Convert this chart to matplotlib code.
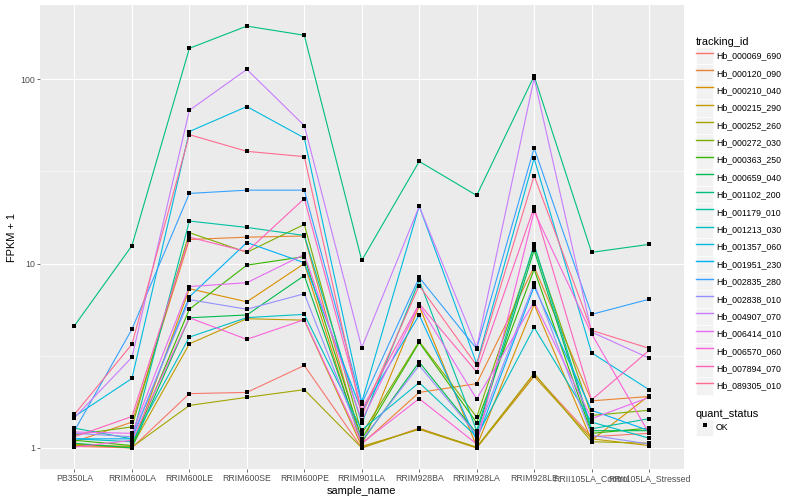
import numpy as np
import matplotlib
matplotlib.use('Agg')
import matplotlib.pyplot as plt
from matplotlib.lines import Line2D
from matplotlib.patches import Patch
from matplotlib.legend_handler import HandlerTuple
from matplotlib.ticker import FixedLocator, NullFormatter

plt.rcParams['font.family'] = ['Liberation Sans', 'DejaVu Sans']

samples = ['PB350LA', 'RRIM600LA', 'RRIM600LE', 'RRIM600SE', 'RRIM600PE',
           'RRIM901LA', 'RRIM928BA', 'RRIM928LA', 'RRIM928LE',
           'RRII105LA_Control', 'RRII105LA_Stressed']

tracking_ids = ['Hb_000069_690', 'Hb_000120_090', 'Hb_000210_040', 'Hb_000215_290',
                'Hb_000252_260', 'Hb_000272_030', 'Hb_000363_250', 'Hb_000659_040',
                'Hb_001102_200', 'Hb_001179_010', 'Hb_001213_030', 'Hb_001357_060',
                'Hb_001951_230', 'Hb_002835_280', 'Hb_002838_010', 'Hb_004907_070',
                'Hb_006414_010', 'Hb_006570_060', 'Hb_007894_070', 'Hb_089305_010']

# ggplot hue palette, 20 levels
colors = ['#F8766D', '#EA8331', '#D89000', '#C09B00', '#A3A500', '#7CAE00',
          '#39B600', '#00BB4E', '#00BF7D', '#00C1A3', '#00BFC4', '#00BAE0',
          '#00B0F6', '#35A2FF', '#9590FF', '#C77CFF', '#E76BF3', '#FA62DB',
          '#FF62BC', '#FF6C91']

# FPKM + 1, one row per tracking_id, one value per sample
fpkm = [
    [1.02, 1.0, 1.97, 2.0, 2.8, 1.0, 1.28, 1.0, 2.5, 1.15, 1.2],
    [1.08, 1.38, 13.5, 13.9, 14.1, 1.05, 2.0, 2.23, 9.6, 1.8, 1.9],
    [1.05, 1.0, 7.3, 6.2, 10.0, 1.03, 5.88, 1.02, 6.0, 1.1, 1.92],
    [1.03, 1.02, 3.67, 5.02, 4.93, 1.02, 1.26, 1.0, 2.44, 1.12, 1.03],
    [1.04, 1.01, 1.7, 1.88, 2.07, 1.0, 1.27, 1.01, 2.54, 1.08, 1.06],
    [1.18, 1.3, 14.7, 11.5, 16.3, 1.19, 3.78, 1.47, 12.3, 1.5, 1.6],
    [1.1, 1.03, 5.65, 9.8, 10.9, 1.12, 3.73, 1.37, 9.3, 1.2, 1.28],
    [1.06, 1.0, 5.08, 5.26, 8.6, 1.08, 2.92, 1.2, 11.8, 1.24, 1.24],
    [4.6, 12.5, 147, 194, 173, 10.4, 35.8, 23.4, 104, 11.5, 12.7],
    [1.28, 1.12, 17.0, 15.7, 14.2, 1.36, 8.1, 1.24, 12.7, 1.27, 1.44],
    [1.12, 1.08, 3.99, 5.09, 5.3, 1.25, 2.26, 1.15, 4.5, 1.38, 1.13],
    [1.48, 2.38, 52, 71, 48, 1.77, 20.5, 2.86, 37.2, 3.28, 2.07],
    [1.12, 1.12, 6.6, 13.0, 10.1, 1.58, 5.26, 1.1, 7.5, 1.6, 1.24],
    [1.24, 4.4, 24, 25, 25, 1.74, 8.4, 3.45, 42.3, 5.3, 6.4],
    [1.2, 1.15, 6.37, 5.65, 6.86, 1.1, 2.8, 1.18, 7.8, 1.17, 1.05],
    [1.46, 3.1, 67.8, 113, 56, 3.5, 20.4, 3.5, 101, 4.25, 3.07],
    [1.22, 1.2, 7.5, 7.87, 11.2, 1.41, 5.95, 1.84, 6.2, 1.44, 1.88],
    [1.01, 1.1, 5.08, 3.88, 4.96, 1.06, 1.85, 1.05, 19.2, 4.16, 1.2],
    [1.15, 1.48, 13.9, 11.6, 22.5, 1.61, 6.05, 2.58, 20.2, 1.82, 3.38],
    [1.52, 3.65, 50, 40.6, 38, 1.5, 7.6, 2.8, 29.9, 4.34, 3.47],
]

fig = plt.figure(figsize=(8, 5), dpi=100)
ax = fig.add_axes([40/800, 1-469/500, (683.5-40)/800, (469-5)/500])
ax.set_facecolor('#EBEBEB')

x = np.arange(len(samples))
for vals, c in zip(fpkm, colors):
    ax.plot(x, vals, color=c, lw=0.8, zorder=2)
for vals in fpkm:
    ax.plot(x, vals, ls='none', marker='s', ms=2.4, mew=0, color='black', zorder=3)

ax.set_yscale('log')
allv = np.array(fpkm, dtype=float)
lo, hi = np.log10(allv.min()), np.log10(allv.max())
pad = 0.05*(hi - lo)
ax.set_ylim(10**(lo - pad), 10**(hi + pad))
ax.set_xlim(-0.6, len(samples) - 0.4)

ax.yaxis.set_major_locator(FixedLocator([1, 10, 100]))
ax.set_yticklabels(['1', '10', '100'])
ax.yaxis.set_minor_locator(FixedLocator([10**0.5, 10**1.5]))
ax.yaxis.set_minor_formatter(NullFormatter())
ax.set_xticks(x)
ax.set_xticklabels(samples)

ax.grid(True, which='major', color='white', lw=0.8)
ax.grid(True, which='minor', axis='y', color='white', lw=0.4)
ax.set_axisbelow(True)
for s in ax.spines.values():
    s.set_visible(False)
ax.tick_params(which='major', length=2, width=0.5, color='#333333',
               labelsize=6.3, labelcolor='#4D4D4D', pad=1.6)
ax.tick_params(which='minor', length=0)

ax.set_xlabel('sample_name', fontsize=7.9, labelpad=2)
ax.set_ylabel('FPKM + 1', fontsize=7.9, labelpad=2)

# legends in ggplot style
key_bg = Patch(facecolor='#F2F2F2', edgecolor='white', lw=0.5)
handles = [(key_bg, Line2D([], [], color=c, lw=1.0)) for c in colors]
leg_kw = dict(loc='upper left', frameon=False, fontsize=6.3, title_fontsize=7.9,
              handlelength=1.975, handleheight=2.68, labelspacing=0,
              handletextpad=0.31, borderpad=0, borderaxespad=0, alignment='left',
              handler_map={tuple: HandlerTuple(ndivide=1)})
fig.legend(handles, tracking_ids, title='tracking_id',
           bbox_to_anchor=(696/800, 1-37/500), **leg_kw)

ok_handle = (key_bg, Line2D([], [], ls='none', marker='s', ms=2.4, mew=0, color='black'))
fig.legend([ok_handle], ['OK'], title='quant_status',
           bbox_to_anchor=(696/800, 1-409/500), **leg_kw)

fig.savefig('out.png', dpi=100)
